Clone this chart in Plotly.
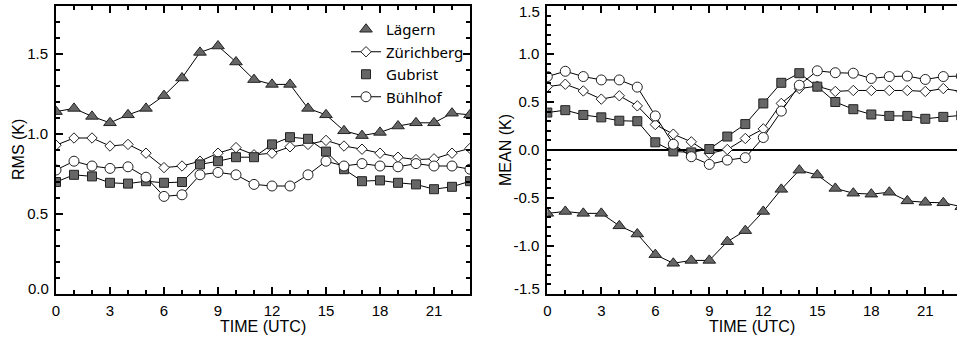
import plotly.graph_objects as go

HOURS = list(range(24))

# RMS (K) - left panel
LAG_RMS = [1.14, 1.16, 1.11, 1.07, 1.12, 1.16, 1.24, 1.35, 1.51, 1.55, 1.45, 1.34,
           1.31, 1.31, 1.16, 1.12, 1.02, 0.99, 1.01, 1.05, 1.07, 1.07, 1.13, 1.12]
ZUR_RMS = [0.93, 0.975, 0.975, 0.925, 0.935, 0.88, 0.79, 0.80, 0.83, 0.88, 0.915, 0.87,
           0.88, 0.92, 0.935, 0.96, 0.925, 0.905, 0.88, 0.855, 0.84, 0.845, 0.88, 0.91]
GUB_RMS = [0.70, 0.745, 0.735, 0.695, 0.69, 0.705, 0.695, 0.70, 0.81, 0.83, 0.855, 0.855,
           0.935, 0.98, 0.97, 0.89, 0.78, 0.705, 0.71, 0.695, 0.685, 0.655, 0.67, 0.705]
BUH_RMS = [0.775, 0.83, 0.80, 0.785, 0.795, 0.73, 0.61, 0.62, 0.745, 0.76, 0.745, 0.685,
           0.675, 0.675, 0.745, 0.83, 0.80, 0.815, 0.80, 0.795, 0.815, 0.80, 0.80, 0.78]

# MEAN (K) - right panel
LAG_MEAN = [-0.66, -0.64, -0.66, -0.66, -0.79, -0.875, -1.09, -1.18, -1.15, -1.15, -0.955, -0.84,
            -0.64, -0.41, -0.21, -0.26, -0.40, -0.45, -0.46, -0.44, -0.53, -0.545, -0.55, -0.59]
ZUR_MEAN = [0.66, 0.685, 0.615, 0.53, 0.565, 0.46, 0.265, 0.165, 0.085, -0.035, 0.005, 0.12,
            0.22, 0.485, 0.64, 0.665, 0.61, 0.62, 0.62, 0.62, 0.62, 0.61, 0.64, 0.61]
GUB_MEAN = [0.39, 0.415, 0.365, 0.34, 0.305, 0.30, 0.08, -0.015, -0.025, 0.01, 0.14, 0.27,
            0.485, 0.70, 0.80, 0.66, 0.50, 0.425, 0.37, 0.355, 0.355, 0.325, 0.345, 0.36]
BUH_MEAN = [0.765, 0.82, 0.765, 0.73, 0.73, 0.655, 0.355, 0.06, -0.07, -0.15, -0.105, -0.08,
            0.13, 0.405, 0.675, 0.825, 0.805, 0.80, 0.745, 0.765, 0.77, 0.735, 0.765, 0.77]

SERIES = ["Lägern", "Zürichberg", "Gubrist", "Bühlhof"]
X_TICKS = [0, 3, 6, 9, 12, 15, 18, 21]
RMS_TICKS = [0.0, 0.5, 1.0, 1.5]
MEAN_TICKS = [-1.5, -1.0, -0.5, 0.0, 0.5, 1.0, 1.5]
RMS_RANGE = [0.0, 1.8]
MEAN_RANGE = [-1.5, 1.5]

GRAY = "#666666"
EDGE = "#222222"
STYLE = {
    "Lägern": dict(symbol="triangle-up", size=11, color=GRAY),
    "Zürichberg": dict(symbol="diamond", size=8, color="white"),
    "Gubrist": dict(symbol="square", size=9, color=GRAY),
    "Bühlhof": dict(symbol="circle", size=10, color="white"),
}
LEGEND_MODE = {"Lägern": "markers", "Zürichberg": "lines+markers",
               "Gubrist": "markers", "Bühlhof": "lines+markers"}

fig = go.Figure()
rms = {"Lägern": LAG_RMS, "Zürichberg": ZUR_RMS, "Gubrist": GUB_RMS, "Bühlhof": BUH_RMS}
mean = {"Lägern": LAG_MEAN, "Zürichberg": ZUR_MEAN, "Gubrist": GUB_MEAN, "Bühlhof": BUH_MEAN}

def mk(name):
    s = STYLE[name]
    return dict(symbol=s["symbol"], size=s["size"], color=s["color"],
                line=dict(color=EDGE, width=1))

for name in SERIES:
    fig.add_trace(go.Scatter(x=HOURS, y=rms[name], mode="lines+markers", showlegend=False,
                             line=dict(color="black", width=1), marker=mk(name),
                             xaxis="x", yaxis="y"))
for name in SERIES:
    fig.add_trace(go.Scatter(x=HOURS, y=mean[name], mode="lines+markers", showlegend=False,
                             line=dict(color="black", width=1), marker=mk(name),
                             xaxis="x2", yaxis="y2"))
for name in SERIES:
    fig.add_trace(go.Scatter(x=[None], y=[None], mode=LEGEND_MODE[name], name=name,
                             legendgroup=name, showlegend=True,
                             line=dict(color="black", width=1), marker=mk(name),
                             xaxis="x", yaxis="y"))

W, H = 957, 338
L0, L1 = 56, 470
R0 = 547.3
PX_PER_HOUR = (L1 - L0) / 23.0
r_xmax = (W - R0) / PX_PER_HOUR

FONT = "Liberation Sans, Arial, sans-serif"
tickfont = dict(family=FONT, size=15, color="black")
common_x = dict(showline=True, linecolor="black", linewidth=2, mirror="ticks",
                ticks="inside", ticklen=7, tickwidth=1.5, tickcolor="black",
                tickvals=X_TICKS, ticktext=[str(v) for v in X_TICKS],
                minor=dict(dtick=1, ticks="inside", ticklen=4, tickwidth=1.5, tickcolor="black"),
                showgrid=False, zeroline=False, tickfont=tickfont, automargin=False,
                ticklabelstandoff=2)

def labels(ticks, rng):
    # edge labels are drawn separately (shifted inward like the original)
    return ["" if v in rng else f"{v:.1f}" for v in ticks]

fig.update_layout(
    width=W, height=H,
    margin=dict(l=0, r=0, t=6, b=44),
    paper_bgcolor="white", plot_bgcolor="white",
    xaxis=dict(domain=[L0 / W, L1 / W], range=[0, 23], anchor="y", **common_x),
    xaxis2=dict(domain=[R0 / W, 1.0], range=[0, r_xmax], anchor="y2", **common_x),
    yaxis=dict(range=RMS_RANGE, anchor="x", showline=True, linecolor="black", linewidth=2,
               mirror="ticks", ticks="inside", ticklen=7, tickwidth=1.5, tickcolor="black",
               tickvals=RMS_TICKS, ticktext=labels(RMS_TICKS, RMS_RANGE),
               minor=dict(dtick=0.1, ticks="inside", ticklen=4, tickwidth=1.5, tickcolor="black"),
               showgrid=False, zeroline=False, tickfont=tickfont, automargin=False,
               ticklabelstandoff=3),
    yaxis2=dict(range=MEAN_RANGE, anchor="x2", showline=True, linecolor="black", linewidth=2,
                ticks="inside", ticklen=7, tickwidth=1.5, tickcolor="black",
                tickvals=MEAN_TICKS, ticktext=labels(MEAN_TICKS, MEAN_RANGE),
                minor=dict(dtick=0.1, ticks="inside", ticklen=4, tickwidth=1.5, tickcolor="black"),
                showgrid=False, zeroline=True, zerolinecolor="black", zerolinewidth=1.5,
                tickfont=tickfont, automargin=False, ticklabelstandoff=3),
    yaxis3=dict(range=MEAN_RANGE, anchor="x2", overlaying="y2", side="right",
                showline=False, ticks="inside", ticklen=7, tickwidth=1.5, tickcolor="black",
                tickvals=MEAN_TICKS, showticklabels=False,
                minor=dict(dtick=0.1, ticks="inside", ticklen=4, tickwidth=1.5, tickcolor="black"),
                showgrid=False, zeroline=False, automargin=False),
    legend=dict(x=346 / W, y=(294 - 13) / 288, xanchor="left", yanchor="top",
                bgcolor="rgba(0,0,0,0)", borderwidth=0, tracegroupgap=0,
                font=dict(family="Noto Sans, sans-serif", size=15, color="black"),
                itemclick=False, itemdoubleclick=False),
    showlegend=True,
)

titlefont = dict(family=FONT, size=16, color="black")
ann = [
    dict(text="TIME (UTC)", x=(L0 + L1) / 2 / W, y=-32 / 288, xref="paper", yref="paper",
         showarrow=False, font=titlefont, xanchor="center", yanchor="middle"),
    dict(text="TIME (UTC)", x=752 / W, y=-32 / 288, xref="paper", yref="paper",
         showarrow=False, font=titlefont, xanchor="center", yanchor="middle"),
    dict(text="RMS (K)", x=18 / W, y=0.5, xref="paper", yref="paper", textangle=-90,
         showarrow=False, font=titlefont, xanchor="center", yanchor="middle"),
    dict(text="MEAN (K)", x=505 / W, y=0.5, xref="paper", yref="paper", textangle=-90,
         showarrow=False, font=titlefont, xanchor="center", yanchor="middle"),
]
# edge tick labels, shifted inward
for v in RMS_TICKS:
    if v in RMS_RANGE:
        ann.append(dict(text=f"{v:.1f}", x=(L0 - 5) / W, xref="paper", y=v, yref="y",
                        showarrow=False, font=tickfont, xanchor="right", yanchor="middle",
                        yshift=6 if v == RMS_RANGE[0] else -5))
for v in MEAN_TICKS:
    if v in MEAN_RANGE:
        ann.append(dict(text=f"{v:.1f}", x=(R0 - 5) / W, xref="paper", y=v, yref="y2",
                        showarrow=False, font=tickfont, xanchor="right", yanchor="middle",
                        yshift=6 if v == MEAN_RANGE[0] else -5))
fig.update_layout(annotations=ann)

fig.write_html("out.html")
